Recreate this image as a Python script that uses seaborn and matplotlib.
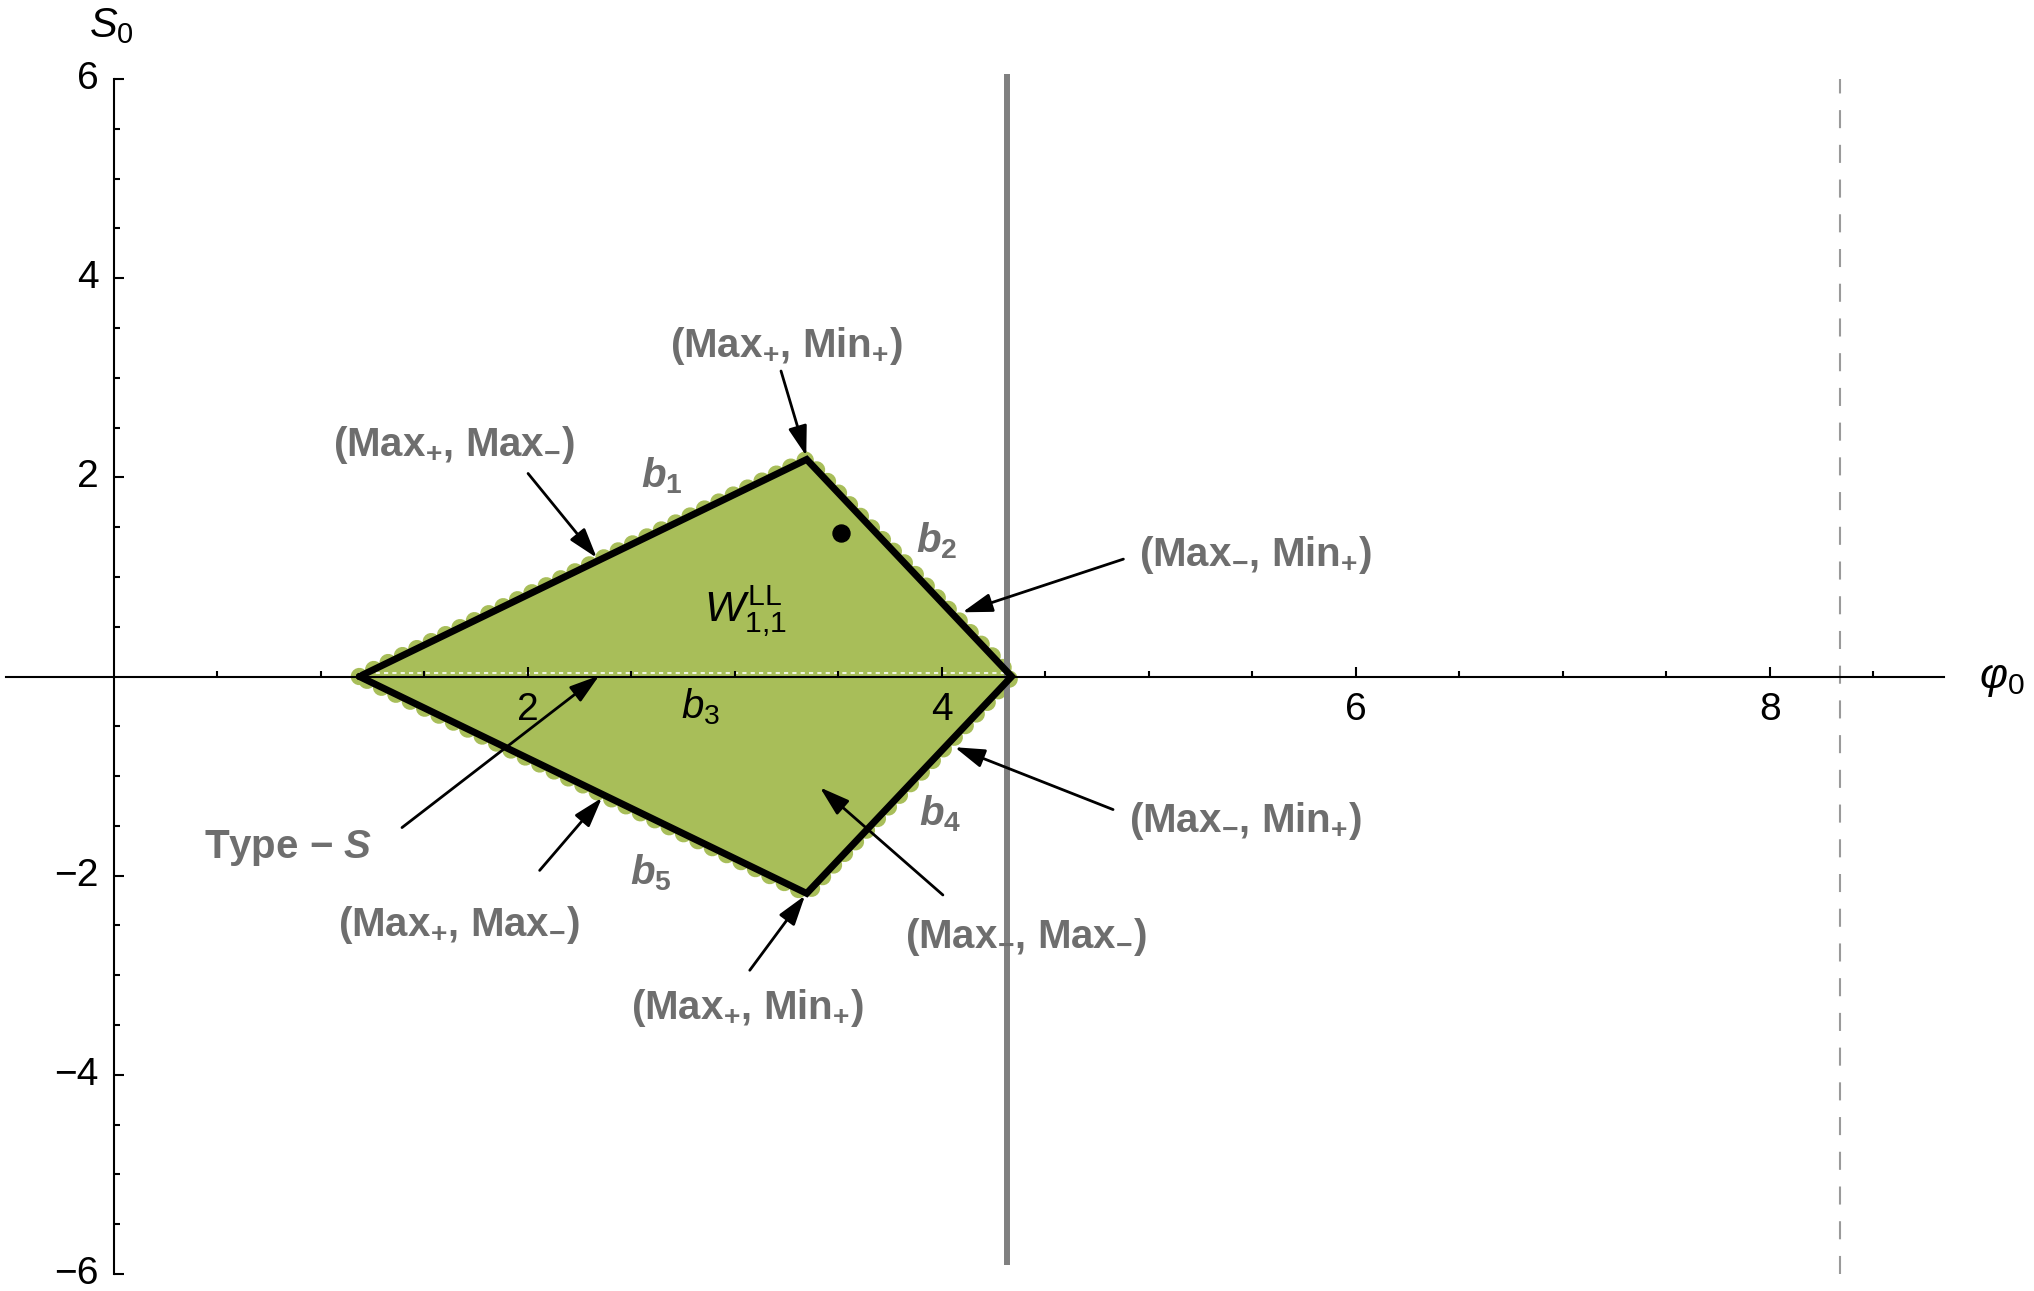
import matplotlib
matplotlib.use("Agg")
import matplotlib.pyplot as plt
import seaborn as sns
import pandas as pd

# Kite-shaped region W^{LL}_{1,1} in the (phi0, S0) plane
vertex_phi = [1.187, 3.348, 4.338, 3.348]
vertex_s = [0.0, 2.180, 0.0, -2.178]

# marked interior point
point_phi = [3.514]
point_s = [1.438]

# reference lines
solid_line_phi = 4.314
dashed_line_phi = 8.34

# tick values
x_major = [2, 4, 6, 8]
x_labels = ["2", "4", "6", "8"]
x_minor = [0.5, 1, 1.5, 2.5, 3, 3.5, 4.5, 5, 5.5, 6.5, 7, 7.5, 8.5]
y_major = [-6, -4, -2, 2, 4, 6]
y_labels = ["\u22126", "\u22124", "\u22122", "2", "4", "6"]
y_minor = [-5.5, -5, -4.5, -3.5, -3, -2.5, -1.5, -1, -0.5,
           0.5, 1, 1.5, 2.5, 3, 3.5, 4.5, 5, 5.5]

# annotation labels (text, phi, S)
pair_texts = [
    r"(Max$_{\mathbf{+}}$, Max$_{\mathbf{-}}$)",
    r"(Max$_{\mathbf{+}}$, Min$_{\mathbf{+}}$)",
    r"(Max$_{\mathbf{-}}$, Min$_{\mathbf{+}}$)",
    r"(Max$_{\mathbf{-}}$, Min$_{\mathbf{+}}$)",
    r"Type $\mathbf{-}$ $\mathbfit{S}$",
    r"(Max$_{\mathbf{+}}$, Max$_{\mathbf{-}}$)",
    r"(Max$_{\mathbf{-}}$, Max$_{\mathbf{-}}$)",
    r"(Max$_{\mathbf{+}}$, Min$_{\mathbf{+}}$)",
]
pair_phi = [1.644, 3.248, 5.517, 5.467, 0.842, 1.669, 4.408, 3.060]
pair_s = [2.325, 3.315, 1.218, -1.452, -1.726, -2.495, -2.612, -3.329]

# arrows from each label to the part of the boundary it names
arrow_tail_phi = [2.002, 3.224, 4.878, 4.828, 1.393, 2.058, 4.006, 3.073]
arrow_tail_s = [2.039, 3.068, 1.179, -1.336, -1.517, -1.947, -2.194, -2.950]
arrow_head_phi = [2.334, 3.346, 4.100, 4.063, 2.346, 2.359, 3.412, 3.340]
arrow_head_s = [1.192, 2.215, 0.645, -0.710, 0.010, -1.218, -1.114, -2.200]

# boundary names
edge_texts = [r"$\mathbfit{b}_{\mathbf{1}}$", r"$\mathbfit{b}_{\mathbf{2}}$",
              r"$\mathbfit{b}_{\mathbf{4}}$", r"$\mathbfit{b}_{\mathbf{5}}$"]
edge_phi = [2.647, 3.975, 3.994, 2.597]
edge_s = [2.013, 1.361, -1.375, -1.973]

GREEN = "#A8BE59"
GRAY_TEXT = "#6E6E6E"

sns.set_theme(style="white")
plt.rcParams["font.family"] = ["Liberation Sans", "DejaVu Sans"]
plt.rcParams["mathtext.fontset"] = "custom"
plt.rcParams["mathtext.rm"] = "Liberation Sans"
plt.rcParams["mathtext.it"] = "Liberation Sans:italic"
plt.rcParams["mathtext.bf"] = "Liberation Sans:bold"
plt.rcParams["mathtext.bfit"] = "Liberation Sans:italic:bold"
plt.rcParams["mathtext.sf"] = "Liberation Sans"
plt.rcParams["lines.scale_dashes"] = False

fig = plt.figure(figsize=(20.34, 12.91), dpi=100)
ax = fig.add_axes([0, 0, 1, 1])
ax.set_xlim(-0.549, 9.277)
ax.set_ylim(-6.171, 6.794)
ax.set_facecolor("white")
ax.set_axisbelow(False)

# axes through the origin
for side in ("top", "right"):
    ax.spines[side].set_visible(False)
ax.spines["left"].set_position(("data", 0))
ax.spines["bottom"].set_position(("data", 0))
ax.spines["left"].set_bounds(-6, 6)
ax.spines["bottom"].set_bounds(-0.52, 8.84)
for side in ("left", "bottom"):
    ax.spines[side].set_color("black")
    ax.spines[side].set_linewidth(1.5)
    ax.spines[side].set_zorder(4)

ax.set_xticks(x_major)
ax.set_xticklabels(x_labels)
ax.set_xticks(x_minor, minor=True)
ax.set_yticks(y_major)
ax.set_yticklabels(y_labels)
ax.set_yticks(y_minor, minor=True)
ax.tick_params(which="both", bottom=True, left=True, top=False, right=False)
ax.tick_params(which="major", direction="in", length=7.5, width=1.5,
               color="black", labelsize=28, labelcolor="black")
ax.tick_params(which="minor", direction="in", length=4.2, width=1.5,
               color="black")
ax.tick_params(axis="x", which="major", pad=11)
ax.tick_params(axis="y", which="major", pad=11)
for lbl in ax.get_yticklabels():
    lbl.set_verticalalignment("center")
ax.xaxis.set_zorder(4.5)
ax.yaxis.set_zorder(4.5)

# closed outline of the region
closed = pd.DataFrame({
    "phi": vertex_phi + vertex_phi[:1],
    "s": vertex_s + vertex_s[:1],
})

ax.fill(vertex_phi, vertex_s, color=GREEN, zorder=1, lw=0)
# dotted green rim from the sampled boundary
ax.plot(closed["phi"], closed["s"], color=GREEN, lw=12.5,
        linestyle=(0, (0.01, 11.5)), dash_capstyle="round", zorder=1.5)
# faint white dashes along b3 on the phi0 axis
ax.plot([vertex_phi[0], vertex_phi[2]], [0.035, 0.035], color="white",
        lw=1.2, linestyle=(0, (3, 3)), zorder=2)
sns.lineplot(data=closed, x="phi", y="s", sort=False, estimator=None,
             color="black", lw=5, ax=ax, zorder=5)
ax.lines[-1].set_solid_joinstyle("miter")
ax.set_xlabel("")
ax.set_ylabel("")

# vertical reference lines
ax.plot([solid_line_phi, solid_line_phi], [-5.91, 6.05], color="#808080",
        lw=4.3, solid_capstyle="butt", zorder=3)
ax.plot([dashed_line_phi, dashed_line_phi], [-6.0, 6.0], color="#9A9A9A",
        lw=1.5, linestyle=(0, (13, 12)), zorder=3)

sns.scatterplot(x=point_phi, y=point_s, color="black", s=150,
                edgecolor="black", ax=ax, zorder=6)

# labels and arrows
for txt, px, py in zip(pair_texts, pair_phi, pair_s):
    ax.text(px, py, txt, fontsize=29, fontweight="bold", color=GRAY_TEXT,
            ha="center", va="center", zorder=7)
for tx, ty, hx, hy in zip(arrow_tail_phi, arrow_tail_s,
                          arrow_head_phi, arrow_head_s):
    ax.annotate("", xy=(hx, hy), xytext=(tx, ty),
                arrowprops=dict(arrowstyle="-|>,head_length=0.7,head_width=0.22",
                                color="black", lw=2.0, shrinkA=0, shrinkB=0,
                                mutation_scale=26),
                zorder=8)
for txt, px, py in zip(edge_texts, edge_phi, edge_s):
    ax.text(px, py, txt, fontsize=29, color=GRAY_TEXT, ha="center",
            va="center", zorder=7)

ax.text(2.835, -0.306, r"$b_{3}$", fontsize=29, color="black",
        ha="center", va="center", zorder=7)
ax.text(3.05, 0.66, r"$W^{\mathrm{LL}}_{1{,}1}$", fontsize=31, color="black",
        ha="center", va="center", zorder=7)

# axis names
ax.text(-0.01, 6.53, r"$S_{0}$", fontsize=30, color="black",
        ha="center", va="center")
ax.text(9.12, -0.02, r"$\varphi_{0}$", fontsize=31, color="black",
        ha="center", va="center")

fig.savefig("out.png", dpi=100, facecolor="white")
